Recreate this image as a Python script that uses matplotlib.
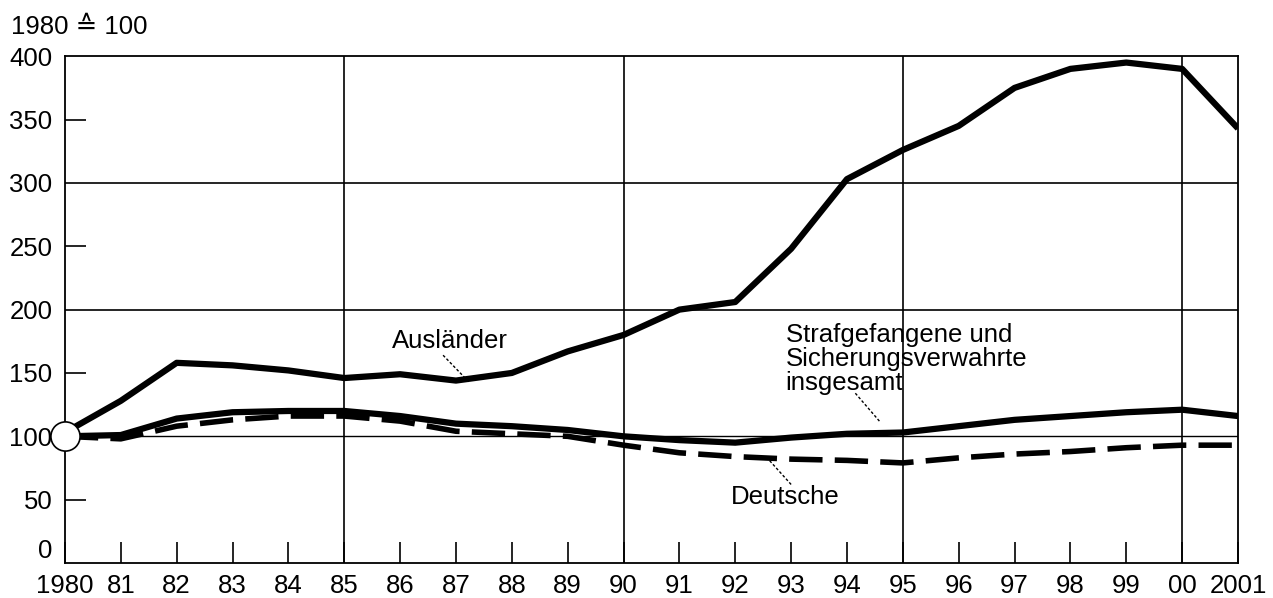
import matplotlib.pyplot as plt

plt.rcParams['font.family'] = ['Liberation Sans', 'DejaVu Sans']

years = list(range(1980, 2002))
year_labels = ['1980'] + [f'{y % 100:02d}' for y in range(1981, 2001)] + ['2001']
y_major = [0, 100, 200, 300, 400]
y_minor = [50, 150, 250, 350]

auslaender = [103, 128, 158, 156, 152, 146, 149, 144, 150, 167, 180, 200, 206,
              248, 303, 326, 345, 375, 390, 395, 390, 343]
insgesamt = [100, 101, 114, 119, 120, 120, 116, 110, 108, 105, 100, 97, 95,
             99, 102, 103, 108, 113, 116, 119, 121, 116]
deutsche = [100, 98, 108, 113, 116, 116, 112, 104, 102, 100, 93, 87, 84,
            82, 81, 79, 83, 86, 88, 91, 93, 93]

fig = plt.figure(figsize=(12.73, 5.98), dpi=100)
ax = fig.add_axes([0.051, 0.0585, 0.9215, 0.8475])

# grid
for x in [1985, 1990, 1995, 2000]:
    ax.axvline(x, color='black', lw=1.2, zorder=1)
for y in [200, 300]:
    ax.axhline(y, color='black', lw=1.2, zorder=1)
ax.axhline(100, color='black', lw=1.0, zorder=1)

ax.plot(years, auslaender, color='black', lw=4.5, solid_capstyle='butt', zorder=3)
ax.plot(years, insgesamt, color='black', lw=4.5, solid_capstyle='butt', zorder=3)
ax.plot(years, deutsche, color='black', lw=4, dashes=(6, 2.2), zorder=3)
ax.plot([1980], [100], 'o', ms=21, mfc='white', mec='black', mew=1.2,
        clip_on=False, zorder=5)

ax.set_xlim(1980, 2001)
ax.set_ylim(0, 400)
ax.set_xticks(years)
ax.set_xticklabels(year_labels)
ax.set_yticks(y_major)
ax.set_yticklabels([str(v) for v in y_major])
ax.set_yticks(y_minor, minor=True)
ax.set_yticklabels([str(v) for v in y_minor], minor=True)
ax.tick_params(axis='x', direction='in', length=15, width=1.2, labelsize=18.5, pad=8)
ax.tick_params(axis='y', which='major', direction='in', length=0, labelsize=18.5, pad=9)
ax.tick_params(axis='y', which='minor', direction='in', length=15, width=1.2,
               labelsize=18.5, pad=9)
ax.get_yticklabels()[0].set_va('bottom')
for s in ax.spines.values():
    s.set_linewidth(1.3)

fig.text(0.009, 0.955, '1980 ≙ 100', fontsize=18.5, va='center', ha='left')

ax.text(1986.9, 175, 'Ausländer', fontsize=18.5, ha='center', va='center')
ax.plot([1986.77, 1987.23], [164, 143], color='black', lw=1, ls=(0, (2, 1.5)), zorder=4)

ax.text(1992.9, 161, 'Strafgefangene und\nSicherungsverwahrte\ninsgesamt',
        fontsize=18.5, ha='left', va='center', linespacing=1.0)
ax.plot([1994.15, 1994.6], [134, 111], color='black', lw=1, ls=(0, (2, 1.5)), zorder=4)

ax.text(1992.9, 52, 'Deutsche', fontsize=18.5, ha='center', va='center')
ax.plot([1993.0, 1992.57], [62, 83], color='black', lw=1, ls=(0, (2, 1.5)), zorder=4)

fig.savefig('out.png', dpi=100)
